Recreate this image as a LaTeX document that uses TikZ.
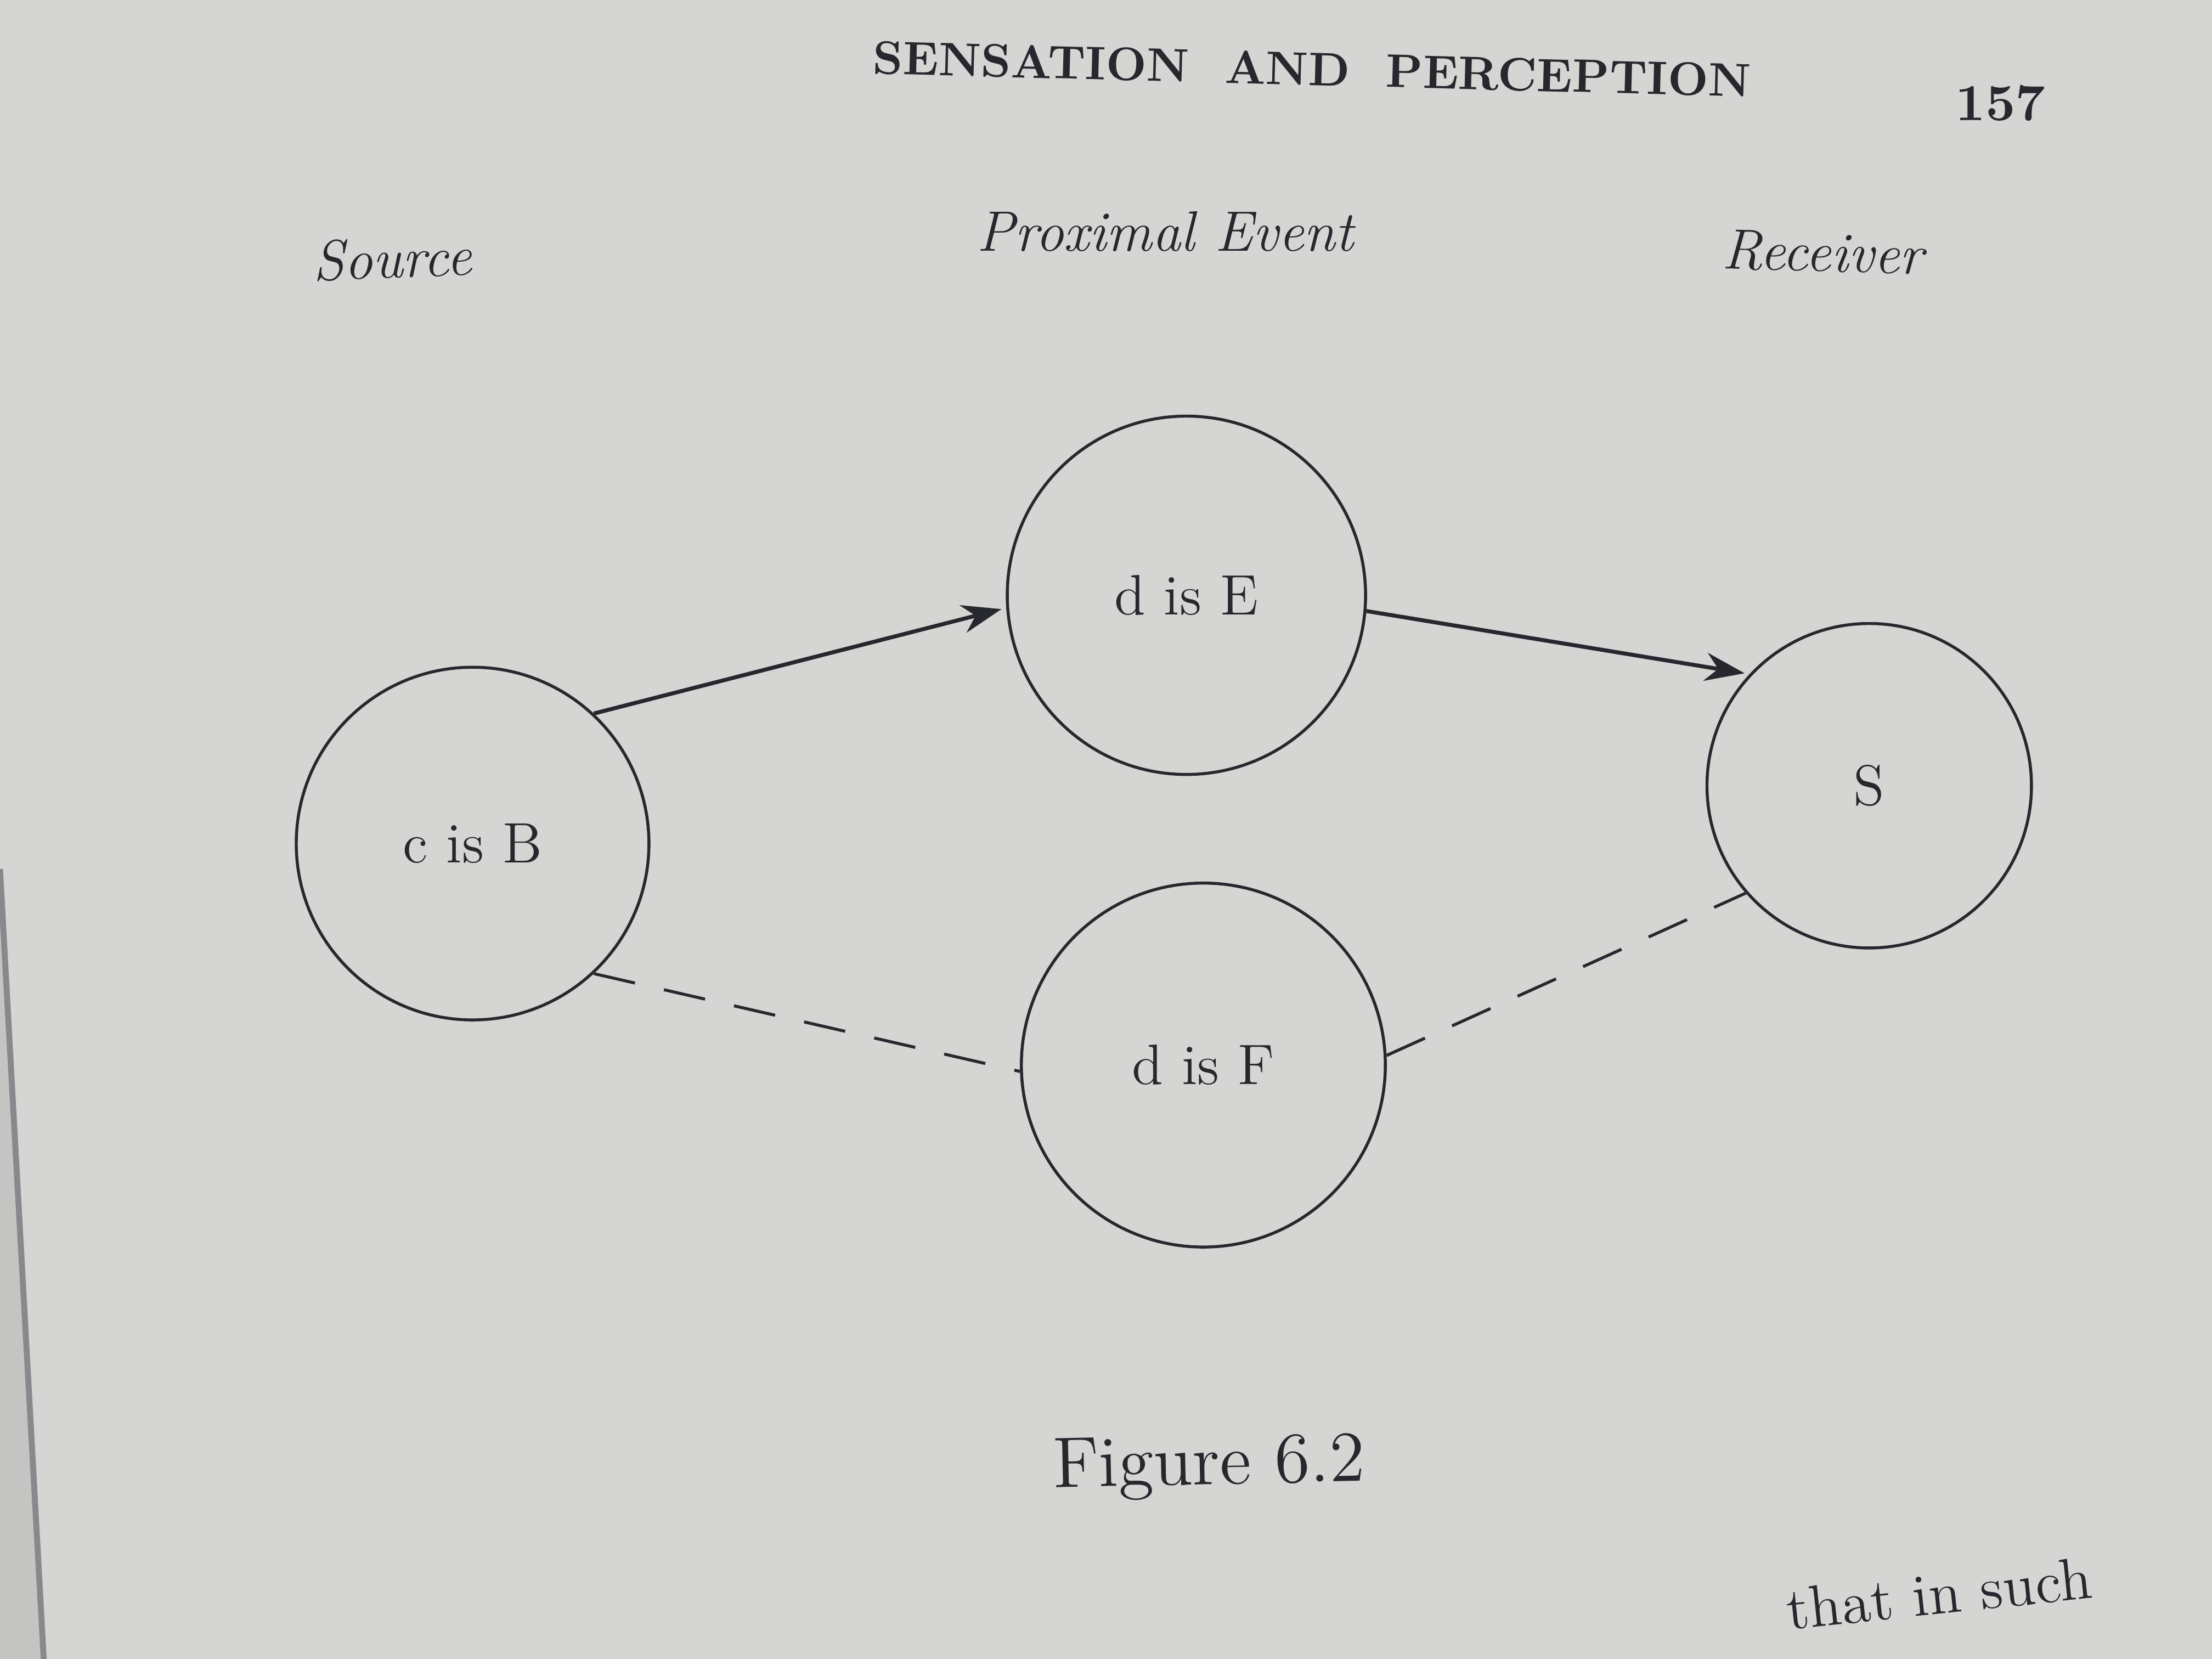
\documentclass[tikz,border=0pt]{standalone}
\usepackage{tikz}
\usetikzlibrary{arrows.meta}

\definecolor{papel}{RGB}{213,213,211}
\definecolor{tinta}{RGB}{38,40,46}

\begin{document}
\begin{tikzpicture}[>={Stealth[length=2.8mm, width=2mm]},
    estado/.style={circle, draw=tinta, semithick, inner sep=0pt, text=tinta,
                   font=\fontsize{11.5}{14}\selectfont},
    rotulo/.style={text=tinta, font=\fontsize{11.5}{14}\selectfont\itshape},
    seta/.style={->, thick, draw=tinta, shorten >=1pt},
    tracejado/.style={semithick, draw=tinta, dash pattern=on 8.5pt off 6pt}]

    % Fundo (página fotografada)
    \fill[papel] (0,0) rectangle (15.68,11.76);
    \useasboundingbox (0,0) rectangle (15.68,11.76);

    % Borda esquerda da página (lombada)
    \fill[papel!92!black] (0,0) -- (0.31,0) -- (0,5.6) -- cycle;
    \draw[tinta!55, line width=1.2pt] (0,5.6) -- (0.31,0);

    % Cabeçalho da página
    \node[text=tinta, rotate=-1.5, font=\fontsize{9.5}{11}\selectfont\bfseries]
        (cabecalho) at (9.30,11.27) {SENSATION\ \ AND\ \ PERCEPTION};
    \node[text=tinta, font=\fontsize{10.5}{12}\selectfont\bfseries]
        (pagina) at (14.18,11.03) {157};

    % Rótulos das colunas
    \node[rotulo, rotate=2] (fonte) at (2.78,9.93) {Source};
    \node[rotulo] (proximal) at (8.26,10.12) {Proximal Event};
    \node[rotulo, rotate=-1.5] (receptor) at (12.92,9.97) {Receiver};

    % Estados (círculos)
    \node[estado, minimum size=2.50cm] (cB) at (3.35,5.78) {c is B};
    \node[estado, minimum size=2.54cm] (dE) at (8.41,7.54) {d is E};
    \node[estado, minimum size=2.58cm] (dF) at (8.53,4.21) {d is F};
    \node[estado, minimum size=2.30cm] (S)  at (13.25,6.19) {S};

    % Caminho real (setas)
    \draw[seta] (cB.47) -- (dE.184);
    \draw[seta] (dE.355) -- (S.137);

    % Caminho alternativo (tracejado)
    \draw[tracejado] (cB.313) -- (dF.182);
    \draw[tracejado] (dF.3) -- (S.221);

    % Legenda
    \node[text=tinta, rotate=1.2, font=\fontsize{14.5}{17}\selectfont]
        (legenda) at (8.57,1.36) {Figure 6.2};

    % Texto seguinte
    \node[text=tinta, rotate=6, anchor=base, font=\fontsize{12}{14}\selectfont]
        (texto) at (13.76,0.32) {that in such};

\end{tikzpicture}
\end{document}
